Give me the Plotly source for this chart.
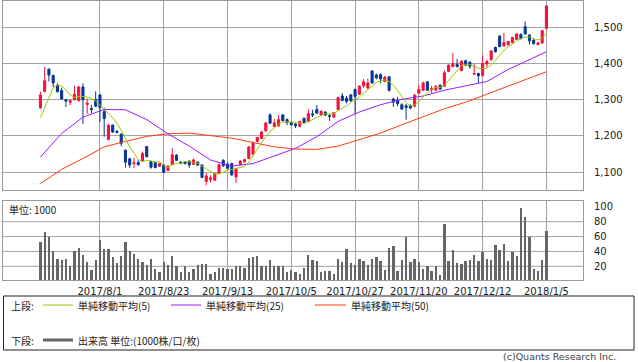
import pandas as pd
import plotly.graph_objects as go

# ---------------- data ----------------
holidays = ["2017-07-17", "2017-08-11", "2017-09-18", "2017-10-09", "2017-11-03",
            "2017-11-23", "2018-01-01", "2018-01-02", "2018-01-03"]
days = pd.bdate_range("2017-07-11", "2018-01-05", freq="C", holidays=holidays)
dates = [f"{d.year}/{d.month}/{d.day}" for d in days]

opens = [1277, 1323, 1384, 1367, 1340, 1325, 1300, 1293, 1300, 1297,
         1335, 1287, 1276, 1300, 1313, 1267, 1190, 1230, 1213, 1205,
         1161, 1137, 1124, 1127, 1131, 1171, 1130, 1127, 1117, 1120,
         1105, 1122, 1147, 1128, 1129, 1131, 1122, 1128, 1120, 1075,
         1080, 1078, 1097, 1133, 1123, 1124, 1087, 1121, 1129, 1138,
         1150, 1185, 1193, 1214, 1258, 1226, 1228, 1258, 1245, 1237,
         1233, 1227, 1249, 1240, 1261, 1273, 1258, 1266, 1256, 1252,
         1273, 1310, 1304, 1313, 1328, 1315, 1338, 1332, 1379, 1368,
         1369, 1350, 1363, 1302, 1298, 1286, 1283, 1284, 1282, 1318,
         1326, 1349, 1327, 1326, 1340, 1337, 1378, 1391, 1397, 1380,
         1407, 1403, 1370, 1372, 1366, 1398, 1410, 1444, 1475, 1448,
         1451, 1457, 1466, 1480, 1501, 1478, 1464, 1452, 1456, 1496]
highs = [1322, 1390, 1386, 1368, 1345, 1333, 1301, 1300, 1338, 1338,
         1345, 1303, 1285, 1323, 1315, 1278, 1232, 1231, 1216, 1207,
         1163, 1140, 1140, 1134, 1157, 1172, 1131, 1128, 1126, 1122,
         1120, 1167, 1150, 1130, 1131, 1133, 1138, 1130, 1122, 1098,
         1092, 1098, 1124, 1136, 1128, 1126, 1112, 1133, 1137, 1172,
         1185, 1198, 1213, 1238, 1263, 1246, 1258, 1260, 1248, 1240,
         1236, 1242, 1250, 1273, 1272, 1285, 1270, 1268, 1261, 1266,
         1308, 1318, 1310, 1316, 1331, 1340, 1357, 1358, 1380, 1372,
         1372, 1365, 1365, 1305, 1308, 1290, 1288, 1287, 1316, 1340,
         1350, 1351, 1338, 1340, 1342, 1381, 1397, 1429, 1412, 1408,
         1410, 1406, 1400, 1374, 1422, 1410, 1437, 1446, 1477, 1484,
         1462, 1473, 1483, 1482, 1515, 1480, 1466, 1459, 1492, 1560]
lows = [1276, 1320, 1350, 1335, 1320, 1300, 1280, 1285, 1298, 1296,
        1233, 1261, 1263, 1280, 1238, 1198, 1189, 1208, 1207, 1172,
        1113, 1112, 1111, 1118, 1130, 1141, 1110, 1111, 1115, 1098,
        1103, 1120, 1131, 1122, 1122, 1112, 1120, 1117, 1084, 1065,
        1072, 1076, 1095, 1115, 1108, 1090, 1071, 1119, 1127, 1136,
        1147, 1183, 1191, 1212, 1233, 1224, 1225, 1240, 1230, 1227,
        1222, 1225, 1235, 1238, 1252, 1261, 1256, 1255, 1241, 1250,
        1271, 1296, 1290, 1294, 1260, 1313, 1332, 1330, 1344, 1356,
        1345, 1348, 1322, 1280, 1282, 1272, 1245, 1274, 1279, 1315,
        1324, 1324, 1318, 1324, 1327, 1335, 1376, 1389, 1389, 1378,
        1393, 1385, 1368, 1346, 1364, 1390, 1407, 1430, 1444, 1446,
        1449, 1455, 1464, 1466, 1479, 1452, 1452, 1449, 1454, 1494]
closes = [1313, 1352, 1368, 1346, 1322, 1302, 1296, 1297, 1315, 1335,
          1300, 1290, 1273, 1282, 1278, 1248, 1230, 1211, 1210, 1180,
          1128, 1120, 1127, 1121, 1152, 1143, 1114, 1113, 1124, 1100,
          1117, 1148, 1133, 1125, 1124, 1120, 1134, 1120, 1086, 1090,
          1085, 1096, 1121, 1118, 1111, 1093, 1110, 1131, 1135, 1170,
          1180, 1196, 1211, 1236, 1235, 1236, 1245, 1242, 1237, 1231,
          1228, 1240, 1237, 1262, 1258, 1263, 1268, 1258, 1254, 1264,
          1306, 1298, 1295, 1297, 1309, 1337, 1349, 1346, 1346, 1360,
          1357, 1362, 1326, 1293, 1289, 1274, 1278, 1277, 1312, 1328,
          1346, 1326, 1331, 1337, 1329, 1374, 1395, 1400, 1391, 1406,
          1395, 1392, 1372, 1366, 1400, 1405, 1434, 1432, 1446, 1457,
          1460, 1471, 1481, 1468, 1481, 1462, 1454, 1456, 1490, 1558]
volumes = [53, 66, 59, 41, 30, 28, 30, 20, 40, 44,
           35, 26, 15, 28, 55, 43, 43, 32, 25, 34,
           53, 40, 37, 30, 26, 22, 30, 16, 12, 26,
           22, 34, 20, 12, 20, 12, 16, 22, 23, 23,
           10, 13, 18, 18, 16, 16, 21, 20, 18, 31,
           32, 34, 20, 20, 28, 20, 21, 20, 12, 15,
           12, 10, 18, 35, 28, 27, 12, 14, 14, 10,
           30, 26, 43, 24, 22, 30, 27, 22, 30, 32,
           27, 15, 44, 47, 14, 28, 59, 26, 30, 26,
           16, 20, 14, 20, 9, 77, 27, 42, 24, 23,
           27, 28, 35, 27, 39, 30, 28, 48, 42, 50,
           27, 39, 34, 99, 86, 59, 16, 14, 28, 67]

# moving averages (first values depend on earlier data)
ma5_head = [1250, 1278, 1306, 1333]
ma_idx = [0, 5, 10, 15, 20, 25, 30, 35, 40, 45, 50, 55, 60, 65, 70, 75, 80,
          85, 90, 95, 100, 105, 110, 115, 119]
ma25 = [1142, 1207, 1252, 1273, 1272, 1245, 1206, 1172, 1134, 1117, 1124,
        1144, 1166, 1198, 1240, 1266, 1286, 1301, 1310, 1326, 1337, 1350,
        1383, 1411, 1432]
ma50 = [1069, 1108, 1138, 1170, 1185, 1199, 1206, 1208, 1201, 1194, 1182,
        1170, 1164, 1163, 1172, 1190, 1208, 1231, 1254, 1275, 1293, 1315,
        1336, 1360, 1377]

tick_dates = ["2017/8/1", "2017/8/23", "2017/9/13", "2017/10/5", "2017/10/27",
              "2017/11/20", "2017/12/12", "2018/1/5"]
price_ticks = [1100, 1200, 1300, 1400, 1500]
vol_ticks = [20, 40, 60, 80, 100]
vol_grid = [20, 40, 60, 80]

ma5 = ma5_head + [sum(closes[i - 4:i + 1]) / 5 for i in range(4, len(closes))]
ma_x = [dates[i] for i in ma_idx]

# ---------------- figure ----------------
W, H = 638, 362
RED, BLUE = "#f5103c", "#0a3596"
C5, C25, C50 = "#99cc00", "#9a1cff", "#ff3b0a"
GRID = "#a3a3a3"
FONT = "DejaVu Sans"
JFONT = "Noto Sans CJK JP"


def py(px):
    return 1 - px / H


def pxx(px):
    return px / W


fig = go.Figure()
fig.add_trace(go.Candlestick(
    x=dates, open=opens, high=highs, low=lows, close=closes,
    increasing=dict(line=dict(color=RED, width=1), fillcolor=RED),
    decreasing=dict(line=dict(color=BLUE, width=1), fillcolor=BLUE),
    whiskerwidth=0, xaxis="x", yaxis="y", hoverinfo="skip"))
fig.add_trace(go.Scatter(x=ma_x, y=ma50, mode="lines", line=dict(color=C50, width=1),
                         xaxis="x", yaxis="y", hoverinfo="skip"))
fig.add_trace(go.Scatter(x=ma_x, y=ma25, mode="lines", line=dict(color=C25, width=1),
                         xaxis="x", yaxis="y", hoverinfo="skip"))
fig.add_trace(go.Scatter(x=dates, y=ma5, mode="lines", line=dict(color=C5, width=1),
                         xaxis="x", yaxis="y", hoverinfo="skip"))
fig.add_trace(go.Bar(x=dates, y=volumes, width=0.55, marker=dict(color="#666666", line=dict(width=0)),
                     xaxis="x2", yaxis="y2", hoverinfo="skip"))

xdom = [pxx(3), pxx(583)]
xr = [-8.8, 127.6]
common_x = dict(type="category", domain=xdom, range=xr, showgrid=True, gridcolor=GRID,
                gridwidth=1, tickvals=tick_dates, showline=True, mirror=True,
                linecolor="#9a9a9a", linewidth=1, zeroline=False, ticks="",
                fixedrange=True)

fig.update_layout(
    width=W, height=H, margin=dict(l=0, r=0, t=0, b=0),
    paper_bgcolor="white", plot_bgcolor="white", showlegend=False,
    boxgap=0.3, bargap=0,
    font=dict(family=FONT, size=10, color="#222"),
    xaxis=dict(**common_x, anchor="y", showticklabels=False,
               rangeslider=dict(visible=False)),
    xaxis2=dict(**common_x, anchor="y2", matches="x", showticklabels=True,
                ticktext=tick_dates, ticklabelstandoff=2,
                tickfont=dict(family=FONT, size=10, color="#222")),
    yaxis=dict(domain=[py(190), py(1)], range=[1051.3, 1571.6], side="right",
               anchor="x", tickvals=price_ticks, tickformat=",", showgrid=True,
               gridcolor=GRID, showline=True, mirror=True, linecolor="#9a9a9a",
               zeroline=False, ticks="", ticklabelstandoff=8, fixedrange=True,
               tickfont=dict(family=FONT, size=10, color="#222")),
    yaxis2=dict(domain=[py(280), py(201)], range=[1.6, 107.8], side="right",
                anchor="x2", tickvals=vol_ticks, showgrid=False, showline=True,
                mirror=True, linecolor="#9a9a9a", zeroline=False, ticks="",
                ticklabelstandoff=8, fixedrange=True,
                tickfont=dict(family=FONT, size=10, color="#222")),
)

shapes = []
for v in vol_grid:
    shapes.append(dict(type="line", xref="x2 domain", yref="y2", x0=0, x1=1, y0=v, y1=v,
                       line=dict(color=GRID, width=1), layer="below"))
# legend box
shapes.append(dict(type="rect", xref="paper", yref="paper", x0=pxx(3.5), x1=pxx(634),
                   y0=py(350), y1=py(296), line=dict(color="#222", width=1)))
legend_rows = [
    (305, [(C5, 43, 73, 1, "単純移動平均(5)"), (C25, 171, 201, 1, "単純移動平均(25)"),
           (C50, 315, 346, 1, "単純移動平均(50)")], "上段:"),
    (340, [("#666666", 43, 73, 3, "出来高 単位:(1000株/口/枚)")], "下段:"),
]
annotations = []
for ypix, items, head in legend_rows:
    annotations.append(dict(x=pxx(9), y=py(ypix), xref="paper", yref="paper", text=head,
                            showarrow=False, xanchor="left", yanchor="middle",
                            font=dict(family=JFONT, size=10, color="#222")))
    for col, x0, x1, lw, label in items:
        shapes.append(dict(type="line", xref="paper", yref="paper", x0=pxx(x0), x1=pxx(x1),
                           y0=py(ypix), y1=py(ypix), line=dict(color=col, width=lw)))
        annotations.append(dict(x=pxx(x1 + 3), y=py(ypix), xref="paper", yref="paper",
                                text=label, showarrow=False, xanchor="left", yanchor="middle",
                                font=dict(family=JFONT, size=10, color="#222")))

annotations.append(dict(x=pxx(7), y=py(209), xref="paper", yref="paper", text="単位: 1000",
                        showarrow=False, xanchor="left", yanchor="middle",
                        font=dict(family=JFONT, size=10, color="#222")))
annotations.append(dict(x=pxx(618), y=py(356), xref="paper", yref="paper",
                        text="(c)Quants Research Inc.", showarrow=False, xanchor="right",
                        yanchor="middle", font=dict(family=FONT, size=9.5, color="#444")))

fig.update_layout(shapes=shapes, annotations=annotations)
fig.write_html("out.html", config={"displayModeBar": False, "staticPlot": True},
               post_script="document.body.style.margin='0';document.body.style.overflow='hidden';")
